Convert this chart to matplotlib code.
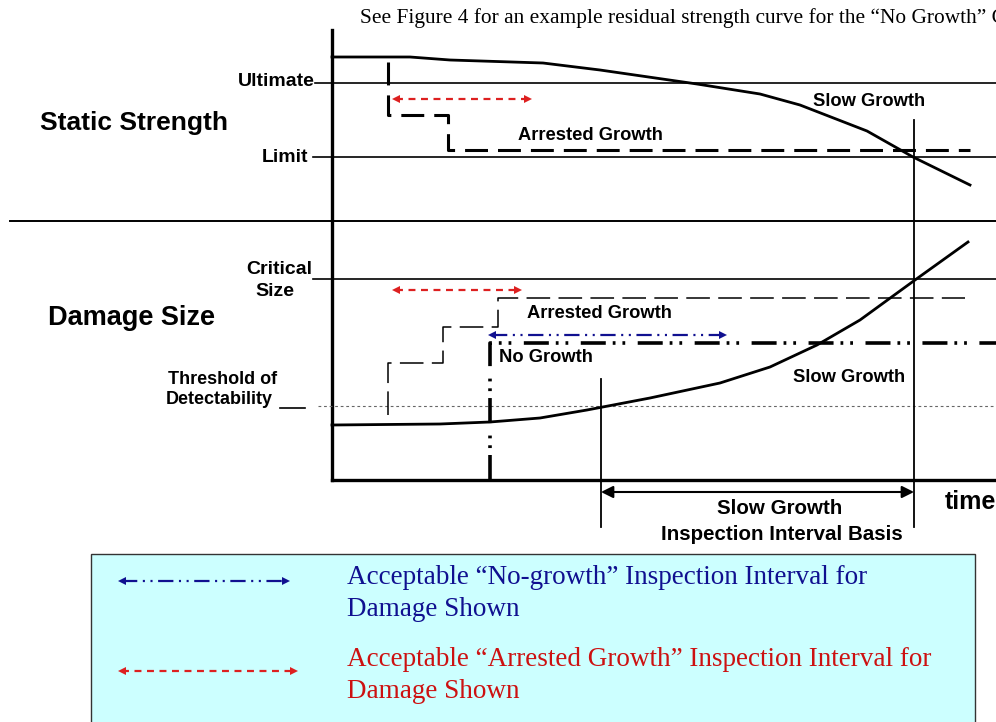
import matplotlib
matplotlib.use("Agg")
import matplotlib.pyplot as plt
from matplotlib.patches import Rectangle

plt.rcParams['lines.scale_dashes'] = False

# diagram coordinates (x = time to the right, y grows downwards like the drawing)
strength_x = [332, 410, 450, 543, 600, 697, 760, 800, 867, 913, 970]
strength_y = [57, 57, 60, 63, 70, 84, 94, 105, 131, 157, 185]

arrested_strength_x = [388, 388, 448, 448, 970]
arrested_strength_y = [62, 115, 115, 150, 150]

damage_x = [332, 440, 490, 540, 587, 650, 720, 770, 817, 860, 915, 968]
damage_y = [425, 424, 422, 418, 410, 398, 383, 367, 345, 320, 280, 242]

arrested_damage_x = [388, 388, 443, 443, 498, 498, 965]
arrested_damage_y = [415, 363, 363, 327, 327, 298, 298]

no_growth_x = [490, 490, 996]
no_growth_y = [480, 343, 343]

ultimate_y = 83
limit_y = 157
critical_y = 279
threshold_y = 406
divider_y = 221
time_axis_y = 480
strength_axis_x = 332

interval_start = 601
interval_end = 914

red_arrows = [(392, 532, 99), (392, 522, 290)]
blue_arrow = (488, 727, 335)

legend_blue = (118, 290, 581)
legend_red = (118, 298, 671)

SANS = ['Liberation Sans', 'DejaVu Sans']
SERIF = ['Liberation Serif', 'DejaVu Serif']
RED = '#dd2020'
BLUE = '#101090'

#####################################################################################################################

fig = plt.figure(figsize=(9.96, 7.22), dpi=100)
ax = fig.add_axes([0, 0, 1, 1])
ax.set_xlim(0, 996)
ax.set_ylim(722, 0)
ax.axis('off')

# axes of the sketch
ax.plot([strength_axis_x, strength_axis_x], [30, time_axis_y], color='black', lw=2.4)
ax.plot([strength_axis_x, 996], [time_axis_y, time_axis_y], color='black', lw=2.4)
ax.plot([10, 996], [divider_y, divider_y], color='black', lw=1.4)

# reference levels
ax.plot([315, 996], [ultimate_y, ultimate_y], color='black', lw=1.2)
ax.plot([313, 996], [limit_y, limit_y], color='black', lw=1.2)
ax.plot([313, 996], [critical_y, critical_y], color='black', lw=1.2)
ax.plot([318, 996], [threshold_y, threshold_y], color='#666666', lw=0.8, ls=(0, (2, 2)))
ax.plot([280, 305], [408, 408], color='black', lw=1.2)

# curves
ax.plot(strength_x, strength_y, color='black', lw=2.0)
ax.plot(arrested_strength_x, arrested_strength_y, color='black', lw=2.2,
        ls=(0, (16.5, 7.2)))
ax.plot(damage_x, damage_y, color='black', lw=2.0)
ax.plot(arrested_damage_x, arrested_damage_y, color='black', lw=1.1,
        ls=(0, (17, 6)))
ax.plot(no_growth_x, no_growth_y, color='black', lw=2.6,
        ls=(0, (18, 5, 2, 5, 2, 9)))

# inspection interval bracket
ax.plot([interval_start, interval_start], [379, 527], color='black', lw=1.3)
ax.plot([interval_end, interval_end], [120, 527], color='black', lw=1.3)
ax.annotate('', xy=(interval_end, 492), xytext=(interval_start, 492),
            arrowprops=dict(arrowstyle='<|-|>', color='black', lw=1.5,
                            mutation_scale=18, shrinkA=0, shrinkB=0))


def dashed_arrow(x0, x1, y, color, ls, lw=1.6, ms=6):
    ax.plot([x0, x1], [y, y], color=color, lw=lw, ls=ls)
    ax.plot([x0], [y], marker='<', color=color, ms=ms, mew=0)
    ax.plot([x1], [y], marker='>', color=color, ms=ms, mew=0)


for x0, x1, y in red_arrows:
    dashed_arrow(x0 + 4, x1 - 4, y, RED, (0, (5, 4)))
dashed_arrow(blue_arrow[0] + 4, blue_arrow[1] - 4, blue_arrow[2], BLUE,
             (0, (11, 4, 1.5, 4, 1.5, 4)))

# labels
ax.text(360, 18, 'See Figure 4 for an example residual strength curve for the \u201cNo Growth\u201d C',
        family=SERIF, fontsize=15.4, va='center', ha='left')
ax.text(315, 81, 'Ultimate', family=SANS, weight='bold', fontsize=14, ha='right', va='center')
ax.text(308, 157, 'Limit', family=SANS, weight='bold', fontsize=14, ha='right', va='center')
ax.text(40, 123, 'Static Strength', family=SANS, weight='bold', fontsize=19, ha='left', va='center')
ax.text(312, 270, 'Critical', family=SANS, weight='bold', fontsize=14, ha='right', va='center')
ax.text(275, 292, 'Size', family=SANS, weight='bold', fontsize=14, ha='center', va='center')
ax.text(48, 318, 'Damage Size', family=SANS, weight='bold', fontsize=19.5, ha='left', va='center')
ax.text(168, 380, 'Threshold of', family=SANS, weight='bold', fontsize=13, ha='left', va='center')
ax.text(166, 399, 'Detectability', family=SANS, weight='bold', fontsize=13, ha='left', va='center')

ax.text(518, 136, 'Arrested Growth', family=SANS, weight='bold', fontsize=13.2, ha='left', va='center')
ax.text(813, 101, 'Slow Growth', family=SANS, weight='bold', fontsize=13.2, ha='left', va='center')
ax.text(527, 314, 'Arrested Growth', family=SANS, weight='bold', fontsize=13.2, ha='left', va='center')
ax.text(499, 357, 'No Growth', family=SANS, weight='bold', fontsize=13.2, ha='left', va='center')
ax.text(793, 377, 'Slow Growth', family=SANS, weight='bold', fontsize=13.2, ha='left', va='center')
ax.text(780, 509, 'Slow Growth', family=SANS, weight='bold', fontsize=14.8, ha='center', va='center')
ax.text(782, 535, 'Inspection Interval Basis', family=SANS, weight='bold', fontsize=14.8, ha='center', va='center')
ax.text(945, 502, 'time', family=SANS, weight='bold', fontsize=18, ha='left', va='center')

# legend box
ax.add_patch(Rectangle((91, 554), 884, 200, facecolor='#ccffff', edgecolor='#333333', lw=1.0, zorder=1))
dashed_arrow(legend_blue[0] + 4, legend_blue[1] - 4, legend_blue[2], BLUE,
             (0, (11, 4, 1.5, 4, 1.5, 4)))
dashed_arrow(legend_red[0] + 4, legend_red[1] - 4, legend_red[2], RED, (0, (5, 4)))
ax.text(347, 578, 'Acceptable \u201cNo-growth\u201d Inspection Interval for', family=SERIF,
        fontsize=19.5, color=BLUE, ha='left', va='center')
ax.text(347, 610, 'Damage Shown', family=SERIF, fontsize=19.5, color=BLUE, ha='left', va='center')
ax.text(347, 660, 'Acceptable \u201cArrested Growth\u201d Inspection Interval for', family=SERIF,
        fontsize=19.5, color='#cc1111', ha='left', va='center')
ax.text(347, 692, 'Damage Shown', family=SERIF, fontsize=19.5, color='#cc1111', ha='left', va='center')

fig.savefig('out.png', dpi=100)
